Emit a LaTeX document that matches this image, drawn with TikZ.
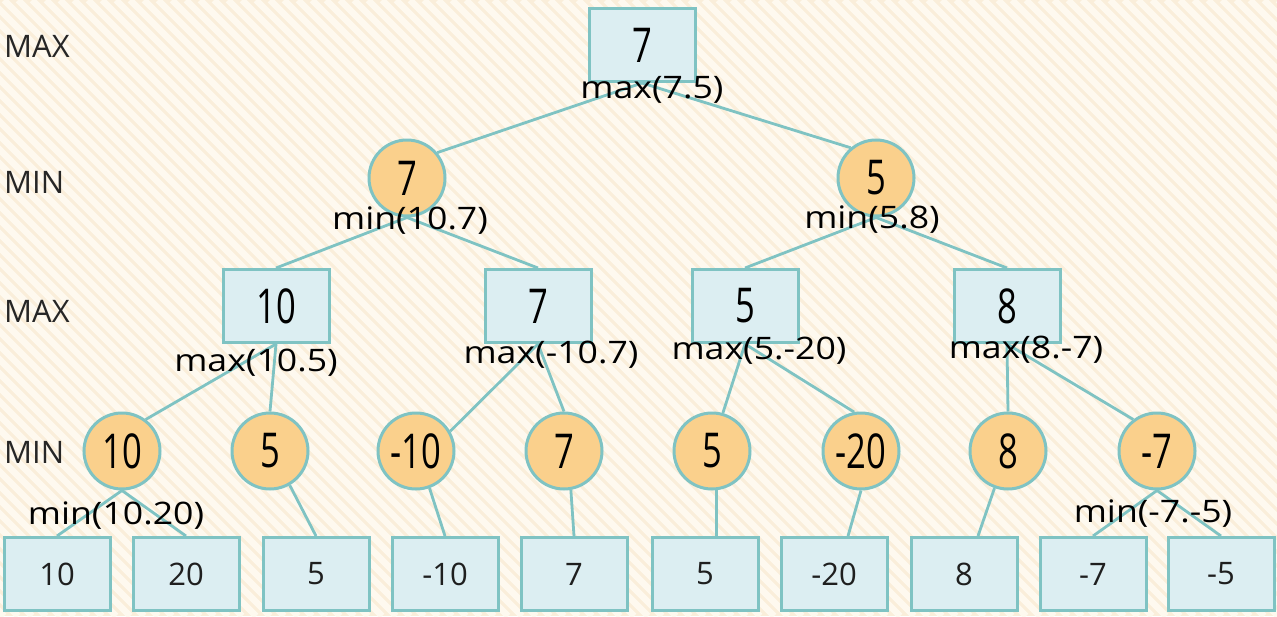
\documentclass[tikz,border=0pt]{standalone}
\usepackage{fontspec}
\setmainfont{Open Sans}
\newfontfamily\handfont[FakeStretch=0.72]{Open Sans}
\newfontfamily\calcfont[FakeStretch=1.15]{Open Sans}
\usetikzlibrary{calc}
\definecolor{bgbase}{HTML}{FAEEDA}
\definecolor{bgstripe}{HTML}{FEF9EF}
\definecolor{edgeteal}{HTML}{7FC3C3}
\definecolor{boxfill}{HTML}{DCEEF2}
\definecolor{circfill}{HTML}{FAD08C}
\pgfdeclarelayer{bglayer}
\pgfdeclarelayer{edgelayer}
\pgfsetlayers{bglayer,edgelayer,main}
\begin{document}
\begin{tikzpicture}[x=1pt,y=-1pt,
  maxbox/.style={draw=edgeteal,line width=3pt,fill=boxfill,minimum width=106pt,minimum height=73pt,inner sep=0pt},
  minnode/.style={circle,draw=edgeteal,line width=3pt,fill=circfill,minimum size=76pt,inner sep=0pt},
  val/.style={font=\handfont\fontsize{48}{52}\selectfont,text=black},
  leaf/.style={maxbox,font=\fontsize{31}{35}\selectfont,text=black!88},
  lvl/.style={anchor=west,inner sep=0pt,font=\fontsize{31}{35}\selectfont,text=black!85},
  calcl/.style={inner sep=0pt,font=\calcfont\fontsize{31}{34}\selectfont,text=black},
  edge/.style={draw=edgeteal,line width=2.8pt}]
\useasboundingbox (0,0) rectangle (1277,616);
\begin{pgfonlayer}{bglayer}
\fill[bgbase] (0,0) rectangle (1277,616);
\begin{scope}
\clip (0,0) rectangle (1277,616);
\foreach \i in {-640,-626,...,1290} \draw[bgstripe,line width=6.5pt] (\i,0) -- (\i+616,616);
\end{scope}
\end{pgfonlayer}

% level labels
\node[lvl] (lv1) at (4,46) {MAX};
\node[lvl] (lv2) at (4,182) {MIN};
\node[lvl] (lv3) at (4,311) {MAX};
\node[lvl] (lv4) at (4,452) {MIN};

% nodes
\node[maxbox,val] (root) at (642,45) {7};
\node[minnode,val] (m1) at (407,178) {7};
\node[minnode,val] (m2) at (876,178) {5};
\node[maxbox,val] (b1) at (276,306) {10};
\node[maxbox,val] (b2) at (538,306) {7};
\node[maxbox,val] (b3) at (745,306) {5};
\node[maxbox,val] (b4) at (1007,306) {8};
\node[minnode,val] (c1) at (122,451) {10};
\node[minnode,val] (c2) at (270,451) {5};
\node[minnode,val] (c3) at (416,451) {-10};
\node[minnode,val] (c4) at (564,451) {7};
\node[minnode,val] (c5) at (712,451) {5};
\node[minnode,val] (c6) at (861,451) {-20};
\node[minnode,val] (c7) at (1008,451) {8};
\node[minnode,val] (c8) at (1157,451) {-7};
\node[leaf] (l1) at (57,574) {10};
\node[leaf] (l2) at (186,574) {20};
\node[leaf] (l3) at (316,574) {5};
\node[leaf] (l4) at (445,574) {-10};
\node[leaf] (l5) at (574,574) {7};
\node[leaf] (l6) at (705,574) {5};
\node[leaf] (l7) at (834,574) {-20};
\node[leaf] (l8) at (964,574) {8};
\node[leaf] (l9) at (1093,574) {-7};
\node[leaf] (l10) at (1221,574) {-5};

% edges
\begin{pgfonlayer}{edgelayer}
\draw[edge] (root.south) -- (m1.40);
\draw[edge] (root.south) -- (m2.130);
\draw[edge] (m1.south) -- (b1.north);
\draw[edge] (m1.south) -- (b2.north);
\draw[edge] (m2.south) -- (b3.north);
\draw[edge] (m2.south) -- (b4.north);
\draw[edge] (b1.south) -- (c1.53);
\draw[edge] (b1.south) -- (c2.north);
\draw[edge] (b2.south) -- (c3.30);
\draw[edge] (b2.south) -- (c4.north);
\draw[edge] (b3.south) -- (c5.74);
\draw[edge] (b3.south) -- (c6.100);
\draw[edge] (b4.south) -- (c7.north);
\draw[edge] (b4.south) -- (c8.127);
\draw[edge] (c1.south) -- (l1.north);
\draw[edge] (c1.south) -- (l2.north);
\draw[edge] (c2.-60) -- (l3.north);
\draw[edge] (c3.-70) -- (l4.north);
\draw[edge] (c4.-80) -- (l5.north);
\draw[edge] (c5.-84) -- (c5.-84 |- l6.north);
\draw[edge] (c6.south) -- ($(l7.north)+(14,0)$);
\draw[edge] (c7.-110) -- ($(l8.north)+(14,0)$);
\draw[edge] (c8.south) -- (l9.north);
\draw[edge] (c8.south) -- (l10.north);
\end{pgfonlayer}

% computation labels
\node[calcl] (k0) at (652,90) {max(7.5)};
\node[calcl] (k1) at (410,221) {min(10.7)};
\node[calcl] (k2) at (872,220) {min(5.8)};
\node[calcl] (k3) at (256,363) {max(10.5)};
\node[calcl] (k4) at (551,355) {max(-10.7)};
\node[calcl] (k5) at (759,351) {max(5.-20)};
\node[calcl] (k6) at (1026,350) {max(8.-7)};
\node[calcl] (k7) at (116,516) {min(10.20)};
\node[calcl] (k8) at (1153,514) {min(-7.-5)};
\end{tikzpicture}
\end{document}
